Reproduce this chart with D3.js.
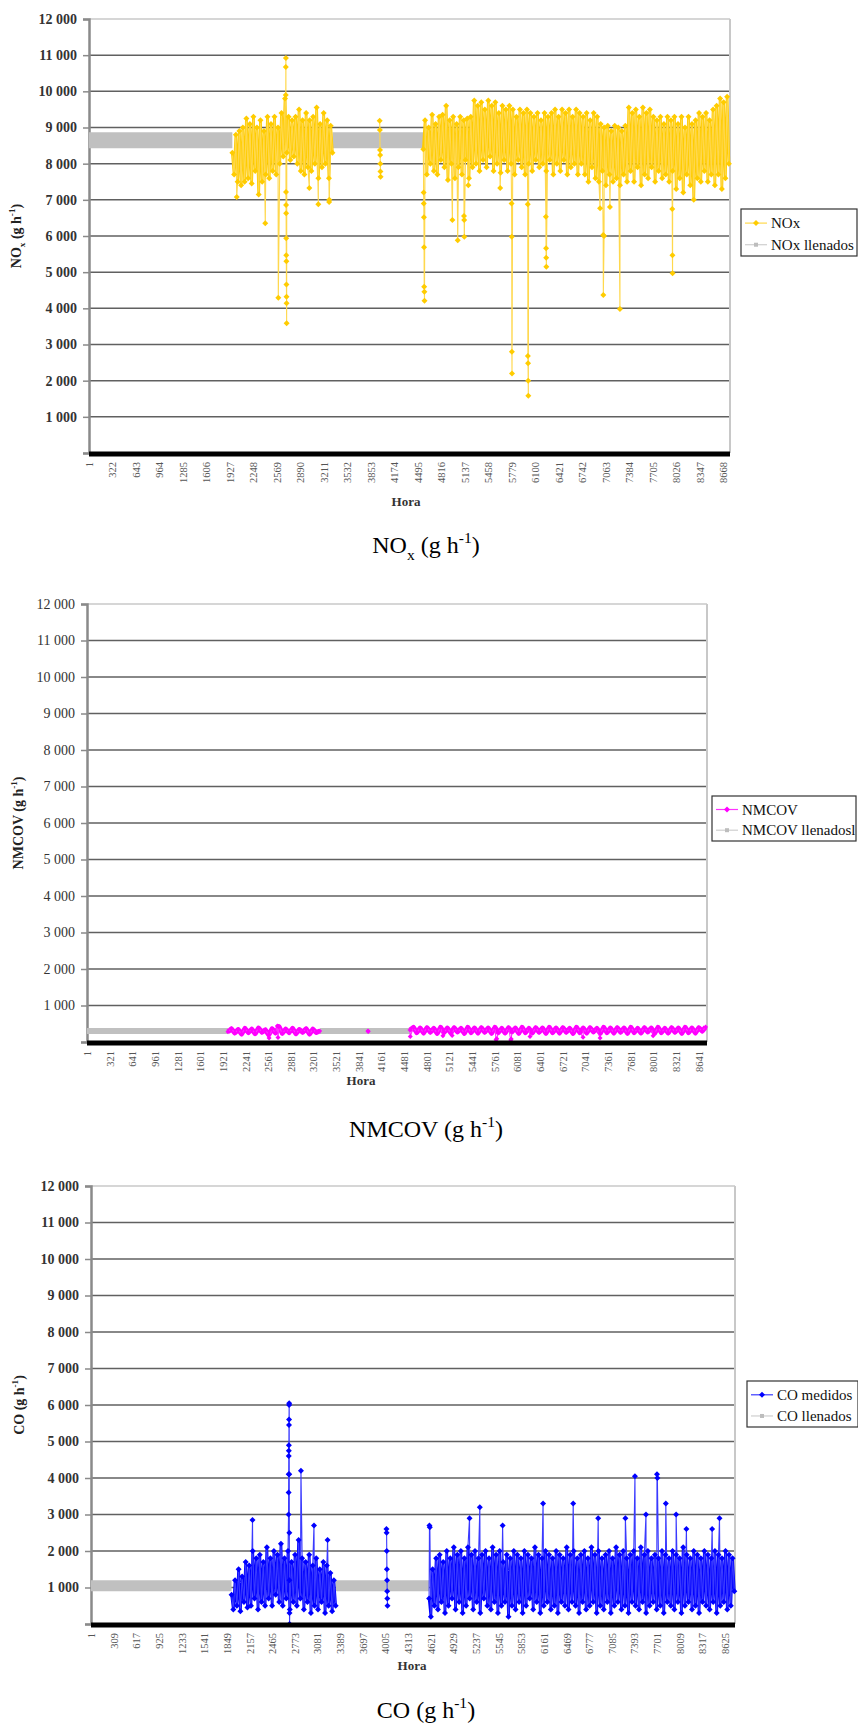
<!DOCTYPE html>
<html>
<head>
<meta charset="utf-8">
<script src="https://cdn.jsdelivr.net/npm/d3@7"></script>
<style>
  body { margin: 0; background: #fff; }
  text { font-family: "Liberation Serif", "Times New Roman", serif; }
</style>
</head>
<body>
<script>
// ---- tick labels (hour index on the category axis) ----
const noxTicks = [1, 322, 643, 964, 1285, 1606, 1927, 2248, 2569, 2890, 3211, 3532, 3853, 4174, 4495,
  4816, 5137, 5458, 5779, 6100, 6421, 6742, 7063, 7384, 7705, 8026, 8347, 8668];
const nmcovTicks = [1, 321, 641, 961, 1281, 1601, 1921, 2241, 2561, 2881, 3201, 3521, 3841, 4161, 4481,
  4801, 5121, 5441, 5761, 6081, 6401, 6721, 7041, 7361, 7681, 8001, 8321, 8641];
const coTicks = [1, 309, 617, 925, 1233, 1541, 1849, 2157, 2465, 2773, 3081, 3389, 3697, 4005, 4313,
  4621, 4929, 5237, 5545, 5853, 6161, 6469, 6777, 7085, 7393, 7701, 8009, 8317, 8625];
const yTicks = [0, 1000, 2000, 3000, 4000, 5000, 6000, 7000, 8000, 9000, 10000, 11000, 12000];
const hoursInYear = 8760;

const noxStart1 = 1960, noxStart2 = 4570, dayStep = 24;
const noxBand1 = [8300, 7700, 8800, 7500, 8900, 7400, 9000, 7500, 9250, 7600,
  9100, 7450, 9300, 7800, 9000, 7150, 9200, 7500, 8900, 7700,
  9300, 7600, 9100, 7800, 9300, 7700, 9000, 8000, 9400, 8200,
  9800, 8300, 9300, 8100, 9200, 8200, 9300, 8000, 9500, 7800,
  9200, 7700, 9400, 7900, 9200, 7800, 9300, 8000, 9550, 7600,
  9100, 7900, 9400, 8000, 9200, 7600, 9050, 8300];
const noxBand2 = [8400, 9200, 7700, 9000, 8000, 9350, 7800, 9100, 7700, 9300,
  8100, 9350, 7900, 9600, 7550, 9200, 8000, 9300, 7600, 9100,
  7900, 9300, 7700, 9200, 8100, 9250, 7600, 9300, 7900, 9750,
  8000, 9600, 7800, 9700, 8100, 9500, 7900, 9750, 8200, 9600,
  7800, 9700, 8000, 9400, 7750, 9600, 8100, 9500, 7800, 9600,
  8000, 9500, 7700, 9300, 8100, 9500, 7900, 9400, 7700, 9500,
  8000, 9400, 7800, 9300, 8100, 9400, 7900, 9200, 8000, 9400,
  7800, 9300, 8100, 9400, 7700, 9500, 8000, 9300, 7800, 9500,
  8100, 9400, 7700, 9500, 7900, 9300, 8000, 9500, 7700, 9400,
  8000, 9300, 7700, 9400, 7500, 9200, 7900, 9400, 7600, 9300,
  7500, 9100, 7800, 9000, 7400, 9050, 7700, 8900, 7500, 9050,
  7600, 9000, 7400, 8900, 7700, 9050, 7500, 9550, 7800, 9400,
  7500, 9500, 7900, 9300, 7400, 9550, 7700, 9400, 7600, 9500,
  7900, 9300, 7500, 9200, 7800, 9300, 7600, 9100, 7700, 9300,
  7500, 9200, 7800, 9300, 7300, 9100, 7600, 9300, 7200, 9000,
  7700, 9300, 7400, 9100, 7000, 9200, 7600, 9400, 7500, 9300,
  7800, 9400, 7500, 9200, 7700, 9500, 7400, 9600, 7700, 9800,
  7300, 9700, 7600, 9850, 8000];
const noxSpikes1 = [[2020, 7080], [2410, 6350], [2588, 4290], [2690, 9900], [2691, 10670], [2692, 10920],
  [2693, 7220], [2694, 6860], [2695, 6630], [2696, 5940], [2697, 5470], [2698, 5300], [2699, 4660],
  [2700, 4320], [2701, 4140], [2702, 3590], [3012, 7330], [3135, 6880], [3283, 6940], [3285, 7000]];
const noxSpikes2 = [[4574, 7200], [4576, 6900], [4578, 6520], [4580, 5690], [4582, 4600], [4584, 4460],
  [4586, 4210], [4967, 6440], [5040, 5880], [5126, 6550], [5128, 6440], [5130, 5980], [5185, 7400],
  [5620, 7330], [5776, 6900], [5778, 5980], [5780, 2800], [5782, 2200], [5997, 6880], [5999, 2680],
  [6001, 2480], [6003, 2000], [6005, 1580], [6245, 6530], [6247, 5660], [6249, 5400], [6251, 5150],
  [6985, 6770], [7028, 6030], [7030, 4370], [7040, 6000], [7120, 6800], [7257, 3980],
  [7972, 6750], [7974, 5470], [7976, 4970]];
const noxIsolated = [[3974, 9190], [3976, 8930], [3978, 8380], [3980, 8240], [3982, 8000], [3984, 7780], [3986, 7640]];
const noxFilledA = [[1, 8650], [1960, 8650]];
const noxFilledB = [[3330, 8650], [4570, 8650]];

// ---- NMCOV (g/h): one reading every two days ----
const nmcovStart1 = 1993, nmcovStart2 = 4565, twoDayStep = 48;
const nmcovBand1 = [280, 360, 250, 340, 220, 370, 260, 350, 230, 380, 270, 330, 200, 360, 250,
  420, 240, 350, 260, 370, 230, 340, 270, 360, 220, 350, 260, 300];
const nmcovBand2 = [330, 400, 260, 380, 250, 390, 270, 370, 240, 400,
  260, 380, 250, 390, 280, 370, 240, 400, 260, 380,
  250, 390, 270, 380, 240, 400, 260, 370, 250, 390,
  280, 380, 240, 400, 260, 370, 250, 390, 270, 380,
  240, 400, 260, 380, 250, 390, 270, 370, 240, 400,
  260, 380, 250, 390, 280, 370, 240, 400, 260, 380,
  250, 390, 270, 380, 240, 400, 260, 370, 250, 390,
  280, 380, 240, 400, 260, 370, 250, 390, 270, 380,
  240, 400, 260, 380, 250, 390, 300, 410];
const nmcovSpikes1 = [[2573, 110], [2690, 440], [2700, 120]];
const nmcovSpikes2 = [[4568, 150], [5030, 170], [5160, 180], [5780, 60], [5790, 90], [5988, 55], [5995, 80],
  [6260, 150], [7010, 130], [7250, 110], [8000, 170]];
const nmcovIsolated = [[3970, 300], [3974, 290]];
const nmcovFilledA = [[1, 300], [1993, 300]];
const nmcovFilledB = [[3293, 300], [4565, 300]];

// ---- CO (g/h): measured, one reading per day ----
const coStart1 = 1913, coStart2 = 4600;
const coBand1 = [800, 400, 1200, 500, 1500, 350, 1300, 600, 1700, 450,
  1600, 500, 2000, 700, 1800, 400, 1900, 600, 1700, 500,
  2100, 700, 1800, 500, 2000, 800, 1900, 600, 2200, 500,
  1800, 700, 2000, 400, 1700, 600, 1900, 500, 2300, 700,
  1800, 400, 1700, 600, 1900, 300, 1600, 500, 1800, 400,
  1500, 600, 1700, 300, 1600, 500, 1400, 350, 1200, 500];
const coBand2 = [700, 200, 1500, 500, 1800, 400, 1900, 600, 1700, 300,
  2000, 500, 1800, 700, 2100, 400, 1900, 600, 2000, 300,
  1800, 500, 2100, 700, 1900, 400, 2000, 600, 1800, 300,
  1900, 700, 2000, 500, 1800, 400, 2100, 600, 1900, 300,
  2000, 500, 1700, 600, 1900, 200, 1800, 500, 2000, 400,
  1900, 600, 1800, 300, 2000, 500, 1900, 700, 1800, 400,
  2100, 600, 1900, 300, 1800, 500, 2000, 600, 1900, 400,
  1800, 500, 2000, 300, 1900, 600, 1800, 500, 2100, 400,
  1900, 600, 2000, 500, 1800, 300, 1900, 600, 2000, 400,
  1800, 500, 2100, 600, 1900, 300, 2000, 500, 1800, 400,
  1900, 600, 2000, 300, 1800, 500, 2100, 600, 1900, 400,
  2000, 500, 1800, 300, 1900, 600, 2000, 500, 1800, 400,
  2100, 600, 1900, 300, 2000, 500, 1800, 600, 1900, 400,
  1800, 500, 2000, 300, 1900, 600, 1800, 500, 2000, 400,
  1900, 600, 1800, 300, 2100, 500, 1900, 600, 1800, 400,
  2000, 500, 1900, 300, 1800, 600, 2000, 500, 1900, 400,
  1800, 600, 2000, 300, 1900, 500, 1800, 600, 2000, 400,
  1900, 500, 1800, 900];
const coSpikes1 = [[2198, 2850], [2688, 3000], [2689, 3600], [2690, 4100], [2691, 4600], [2692, 4750],
  [2693, 4900], [2694, 5450], [2695, 5600], [2696, 6000], [2697, 6050], [2698, 4100], [2699, 2500],
  [2700, 1200], [2701, 300], [2702, 0], [2857, 4200], [3034, 2700], [3219, 2300]];
const coSpikes2 = [[4605, 2700], [4610, 2650], [5150, 2900], [5290, 3200], [5600, 2700], [6150, 3300],
  [6560, 3300], [6900, 2900], [7270, 2900], [7400, 4050], [7550, 3000], [7700, 4100], [7705, 4000],
  [7820, 3300], [7960, 3000], [8100, 2600], [8450, 2600], [8550, 2900]];
const coIsolated = [[4020, 2600], [4022, 2500], [4024, 2000], [4026, 1500], [4028, 1200], [4030, 900], [4032, 700], [4034, 500]];
const coFilledA = [[1, 1050], [1913, 1050]];
const coFilledB = [[3329, 1050], [4600, 1050]];

// ---------------------------------------------------------------
const W = 858, H = 1729;
const svg = d3.select("body").append("svg").attr("width", W).attr("height", H);

const fmt = d3.formatLocale({ decimal: ",", thousands: " ", grouping: [3], currency: ["", ""] }).format(",d");

function band(start, step, values) {
  return values.map((v, i) => [start + i * step, v]);
}
function merge(a, b) {
  return a.concat(b).sort((p, q) => p[0] - q[0]);
}

// text with sub/superscript parts: [string, "sub"|"sup"|null]
function richText(sel, parts, fs) {
  let shift = 0;
  parts.forEach(([t, kind]) => {
    const target = kind === "sup" ? -fs * 0.42 : kind === "sub" ? fs * 0.28 : 0;
    sel.append("tspan")
      .attr("dy", target - shift)
      .attr("font-size", kind ? fs * 0.65 : fs)
      .text(t);
    shift = target;
  });
}

function diamond(r) { return `M0,${-r}L${r},0L0,${r}L${-r},0Z`; }
function square(r) { return `M${-r},${-r}H${r}V${r}H${-r}Z`; }

function drawPanel(p) {
  const g = svg.append("g");
  const x = d3.scaleLinear().domain([1, hoursInYear + 1]).range([p.left, p.right]);
  const y = d3.scaleLinear().domain([0, 12000]).range([p.bottom, p.top]);

  // grid lines
  g.selectAll("line.grid").data(yTicks.filter(v => v > 0 && v < 12000)).join("line")
    .attr("x1", p.left).attr("x2", p.right)
    .attr("y1", d => y(d)).attr("y2", d => y(d))
    .attr("stroke", "#606060").attr("stroke-width", 1.5);
  // plot border top / right
  g.append("line").attr("x1", p.left).attr("x2", p.right).attr("y1", y(12000)).attr("y2", y(12000))
    .attr("stroke", "#c8c8c8").attr("stroke-width", 1.5);
  g.append("line").attr("x1", p.right).attr("x2", p.right).attr("y1", p.top).attr("y2", p.bottom)
    .attr("stroke", "#c8c8c8").attr("stroke-width", 2);

  // y axis
  const yAxis = d3.axisLeft(y).tickValues(yTicks).tickSize(6).tickPadding(6)
    .tickFormat(d => d === 0 ? "" : fmt(d));
  const ya = g.append("g").attr("transform", `translate(${p.left},0)`).call(yAxis);
  ya.select(".domain").attr("stroke", "#8a8a8a").attr("stroke-width", 2.5);
  ya.selectAll(".tick line").attr("stroke", "#8a8a8a").attr("stroke-width", 1.5);
  ya.selectAll(".tick text")
    .attr("font-family", "Liberation Serif").attr("font-size", 14)
    .attr("font-weight", p.tickBold ? "bold" : "normal").attr("fill", "#333");

  // filled (gray) series drawn as thick line
  const line = d3.line().x(d => x(d[0])).y(d => y(d[1]));
  p.filled.forEach(seg => {
    g.append("path").attr("d", line(seg)).attr("fill", "none")
      .attr("stroke", "#c0c0c0").attr("stroke-width", p.fillWidth).attr("stroke-linecap", "butt");
  });

  // measured series: the dense daily band (thick, so it reads as a solid mass),
  // then the full series with spikes as a thin line, then the markers
  p.bands.forEach(seg => {
    g.append("path").attr("d", line(seg)).attr("fill", "none")
      .attr("stroke", p.color).attr("stroke-width", p.bandWidth).attr("stroke-linejoin", "round");
  });
  p.measured.forEach(seg => {
    g.append("path").attr("d", line(seg)).attr("fill", "none")
      .attr("stroke", p.lineColor).attr("stroke-width", 1.1);
    g.append("g").selectAll("path").data(seg).join("path")
      .attr("transform", d => `translate(${x(d[0])},${y(d[1])})`)
      .attr("d", diamond(p.markerR)).attr("fill", p.color);
  });

  // bottom axis: dense category ticks make a black band
  g.append("rect").attr("x", p.left).attr("y", p.bottom - 1.5)
    .attr("width", p.right - p.left).attr("height", 5).attr("fill", "#000");

  // x tick labels, rotated
  g.selectAll("text.xt").data(p.xTicks).join("text")
    .attr("class", "xt")
    .attr("transform", d => `translate(${x(d) + 0.5},${p.bottom + 9}) rotate(-90)`)
    .attr("text-anchor", "end").attr("dominant-baseline", "central")
    .attr("font-family", "Liberation Sans").attr("font-size", 10.5).attr("fill", "#555")
    .text(d => d);

  // x title
  g.append("text").attr("x", p.horaX).attr("y", p.horaY).attr("text-anchor", "middle")
    .attr("font-size", 13).attr("font-weight", "bold").attr("fill", "#333").text("Hora");

  // y title
  const yt = g.append("text")
    .attr("transform", `translate(${p.yTitleX},${(p.top + p.bottom) / 2}) rotate(-90)`)
    .attr("text-anchor", "middle").attr("font-weight", "bold").attr("fill", "#222").attr("font-size", 14);
  richText(yt, p.yTitle, 14);

  // legend
  const lg = g.append("g").attr("transform", `translate(${p.legend[0]},${p.legend[1]})`);
  lg.append("rect").attr("width", p.legend[2]).attr("height", p.legend[3])
    .attr("fill", "#fff").attr("stroke", "#333").attr("stroke-width", 1.2);
  const rowY = [p.legend[3] * 0.3, p.legend[3] * 0.76];
  lg.append("line").attr("x1", 4).attr("x2", 26).attr("y1", rowY[0]).attr("y2", rowY[0])
    .attr("stroke", p.lineColor).attr("stroke-width", 1.2);
  lg.append("path").attr("transform", `translate(15,${rowY[0]})`).attr("d", diamond(3)).attr("fill", p.color);
  lg.append("line").attr("x1", 4).attr("x2", 26).attr("y1", rowY[1]).attr("y2", rowY[1])
    .attr("stroke", "#cfcfcf").attr("stroke-width", 1.2);
  lg.append("path").attr("transform", `translate(15,${rowY[1]})`).attr("d", square(2)).attr("fill", "#bdbdbd");
  p.legendNames.forEach((name, i) => {
    lg.append("text").attr("x", 30).attr("y", rowY[i]).attr("dominant-baseline", "central")
      .attr("font-size", 15).attr("fill", "#111").text(name);
  });

  // caption below the chart
  const cap = svg.append("text").attr("x", p.captionX).attr("y", p.captionY)
    .attr("text-anchor", "middle").attr("font-size", 24).attr("fill", "#000");
  richText(cap, p.caption, 24);
}

const noxB1 = band(noxStart1, dayStep, noxBand1), noxB2 = band(noxStart2, dayStep, noxBand2);
drawPanel({
  top: 19, bottom: 453, left: 89, right: 730,
  xTicks: noxTicks, tickBold: true,
  filled: [noxFilledA, noxFilledB], fillWidth: 16,
  bands: [noxB1, noxB2], bandWidth: 2.7,
  measured: [merge(noxB1, noxSpikes1), noxIsolated, merge(noxB2, noxSpikes2)],
  color: "#ffcc00", lineColor: "#ffd84d", markerR: 3,
  horaX: 406, horaY: 506,
  yTitleX: 21, yTitle: [["NO", null], ["x", "sub"], [" (g h", null], ["-1", "sup"], [")", null]],
  legend: [741, 209, 116, 47], legendNames: ["NOx", "NOx llenados"],
  captionX: 426, captionY: 553,
  caption: [["NO", null], ["x", "sub"], [" (g h", null], ["-1", "sup"], [")", null]]
});

const nmB1 = band(nmcovStart1, twoDayStep, nmcovBand1), nmB2 = band(nmcovStart2, twoDayStep, nmcovBand2);
drawPanel({
  top: 604, bottom: 1042, left: 87, right: 707,
  xTicks: nmcovTicks, tickBold: false,
  filled: [nmcovFilledA, nmcovFilledB], fillWidth: 6,
  bands: [nmB1, nmB2], bandWidth: 5,
  measured: [merge(nmB1, nmcovSpikes1), nmcovIsolated, merge(nmB2, nmcovSpikes2)],
  color: "#ff00ff", lineColor: "#ff33ff", markerR: 2.5,
  horaX: 361, horaY: 1085,
  yTitleX: 23, yTitle: [["NMCOV (g h", null], ["-1", "sup"], [")", null]],
  legend: [712, 796, 144, 45], legendNames: ["NMCOV", "NMCOV llenadosl"],
  captionX: 426, captionY: 1137,
  caption: [["NMCOV (g h", null], ["-1", "sup"], [")", null]]
});

const coB1 = band(coStart1, dayStep, coBand1), coB2 = band(coStart2, dayStep, coBand2);
drawPanel({
  top: 1186, bottom: 1624, left: 91, right: 735,
  xTicks: coTicks, tickBold: true,
  filled: [coFilledA, coFilledB], fillWidth: 11,
  bands: [coB1, coB2], bandWidth: 2.7,
  measured: [merge(coB1, coSpikes1), coIsolated, merge(coB2, coSpikes2)],
  color: "#0000ff", lineColor: "#3a3aff", markerR: 3,
  horaX: 412, horaY: 1670,
  yTitleX: 24, yTitle: [["CO (g h", null], ["-1", "sup"], [")", null]],
  legend: [747, 1381, 111, 46], legendNames: ["CO medidos", "CO llenados"],
  captionX: 426, captionY: 1718,
  caption: [["CO (g h", null], ["-1", "sup"], [")", null]]
});
</script>
</body>
</html>
